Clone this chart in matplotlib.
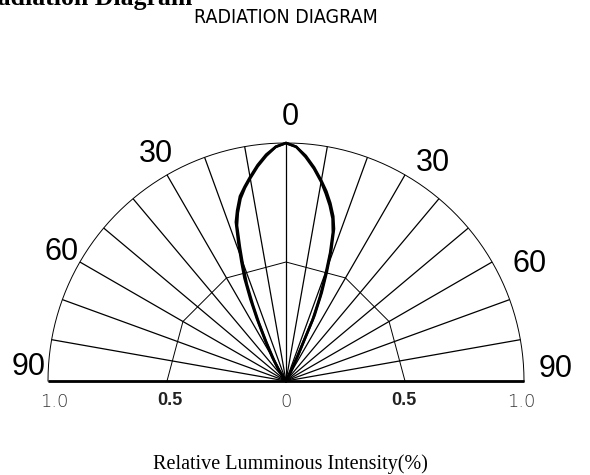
import numpy as np
import matplotlib
matplotlib.use('Agg')
import matplotlib.pyplot as plt

# measured relative intensity (0..1) vs angle off axis (deg)
angles = [0, 2.5, 5, 7.5, 10, 12, 14, 16, 17.5, 19, 20.5, 22, 23.5, 25, 27, 30, 33, 36, 40, 90]
left_1 = [1.0, 0.985, 0.955, 0.915, 0.87, 0.835, 0.80, 0.745, 0.70, 0.615, 0.535, 0.465, 0.375, 0.29, 0.195, 0.115, 0.06, 0.02, 0.0, 0.0]
left_2 = [1.0, 0.985, 0.95, 0.91, 0.865, 0.83, 0.79, 0.735, 0.685, 0.595, 0.515, 0.44, 0.35, 0.27, 0.18, 0.10, 0.05, 0.015, 0.0, 0.0]
right_1 = [1.0, 0.985, 0.95, 0.905, 0.855, 0.815, 0.77, 0.72, 0.67, 0.585, 0.49, 0.40, 0.30, 0.12, 0.045, 0.01, 0.0, 0.0, 0.0, 0.0]
right_2 = [1.0, 0.985, 0.945, 0.90, 0.85, 0.805, 0.76, 0.71, 0.655, 0.57, 0.47, 0.38, 0.28, 0.11, 0.04, 0.008, 0.0, 0.0, 0.0, 0.0]

grid_angles = np.arange(-90, 91, 10)
ring_angles = [-90, -60, -30, 0, 30, 60, 90]
angle_labels = ['0', '30', '30', '60', '60', '90', '90']
angle_label_pos = [(0.017, 1.11), (-0.546, 0.954), (0.618, 0.916), (-0.945, 0.54),
                   (1.025, 0.492), (-1.08, 0.059), (1.134, 0.05)]
scale_labels = ['1.0', '0.5', '0', '0.5', '1.0']
scale_pos = [-0.975, -0.49, 0.0, 0.496, 0.99]


def to_xy(theta_deg, r):
    t = np.radians(np.asarray(theta_deg, dtype=float))
    r = np.asarray(r, dtype=float)
    return r * np.sin(t), r * np.cos(t)


fig = plt.figure(figsize=(5.9, 4.75), dpi=100)
ax = fig.add_axes([0, 0, 1, 1])
ax.set_xlim(-286 / 238, 304 / 238)
ax.set_ylim(-94 / 238, 381 / 238)
ax.axis('off')

# radial spokes
for a in grid_angles:
    x, y = to_xy([a, a], [0, 1])
    ax.plot(x, y, color='black', lw=0.9, solid_capstyle='butt')

# outer arc
t = np.linspace(-90, 90, 361)
x, y = to_xy(t, np.ones_like(t))
ax.plot(x, y, color='black', lw=0.7)

# inner 0.5 ring (polygon)
x, y = to_xy(ring_angles, [0.5] * len(ring_angles))
ax.plot(x, y, color='black', lw=0.7)

# base line
ax.plot([-1, 1], [0, 0], color='black', lw=2.0, solid_capstyle='butt')

# pattern curves
neg = [-a for a in angles]
for left, right in [(left_1, right_1), (left_2, right_2)]:
    th = neg[::-1] + angles[1:]
    rr = left[::-1] + right[1:]
    x, y = to_xy(th, rr)
    ax.plot(x, y, color='black', lw=1.9, solid_joinstyle='round')

for s, (px, py) in zip(angle_labels, angle_label_pos):
    ax.text(px, py, s, fontsize=22, family='Liberation Sans', ha='center', va='center')

for s, px in zip(scale_labels, scale_pos):
    if s == '0.5':
        ax.text(px, -0.08, s, fontsize=13, family='Liberation Sans', fontweight='bold',
                color='#222222', ha='center', va='center')
    else:
        ax.text(px, -0.09, s, fontsize=13, family='DejaVu Sans', fontweight='light',
                color='#333333', ha='center', va='center')

fig.text(192 / 590, 1 - 5 / 475, 'Radiation Diagram', fontsize=18.5, family='Liberation Serif',
         fontweight='bold', ha='right', va='baseline')
fig.text(285.5 / 590, 1 - 17.5 / 475, 'RADIATION DIAGRAM', fontsize=14,
         family=['DejaVu Sans'], fontstretch='condensed', ha='center', va='center')
fig.text(290.5 / 590, 6 / 475, 'Relative Lumminous Intensity(%)', fontsize=14.5,
         family='Liberation Serif', ha='center', va='baseline')

fig.savefig('out.png', dpi=100)
